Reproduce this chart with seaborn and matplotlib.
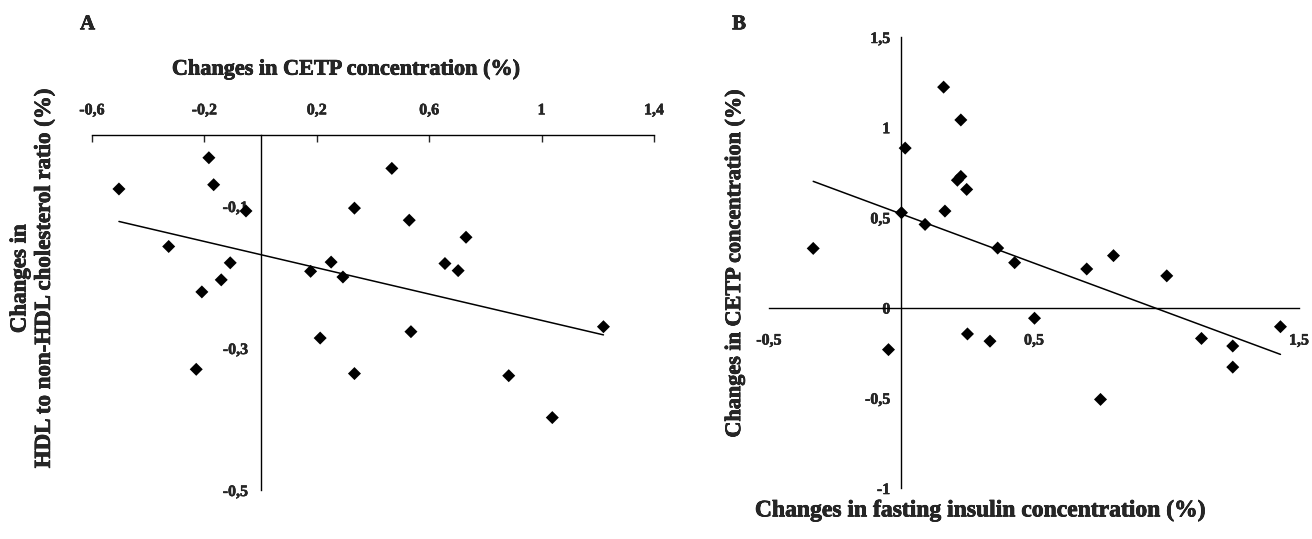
import matplotlib
matplotlib.use('Agg')
import matplotlib.pyplot as plt
import matplotlib.ticker as mticker
import matplotlib.patheffects as pe
import numpy as np
import pandas as pd
import seaborn as sns

# panel A: CETP change vs HDL / non-HDL ratio change
cetp_a = [-0.504, -0.184, -0.167, -0.052, -0.327, -0.108, -0.140, -0.209, -0.229,
          0.178, 0.251, 0.293, 0.334, 0.467, 0.529, 0.731, 0.656, 0.703,
          0.212, 0.535, 0.334, 0.883, 1.038, 1.220]
ratio_a = [-0.076, -0.032, -0.070, -0.107, -0.157, -0.180, -0.204, -0.221, -0.330,
           -0.192, -0.179, -0.200, -0.103, -0.047, -0.120, -0.144, -0.181, -0.191,
           -0.286, -0.277, -0.336, -0.339, -0.398, -0.270]

# panel B: fasting insulin change vs CETP change
insulin_b = [-0.333, -0.049, 0.000, 0.014, 0.089, 0.159, 0.164, 0.224, 0.211,
             0.224, 0.246, 0.249, 0.334, 0.363, 0.427, 0.502, 0.699, 0.751,
             0.800, 1.001, 1.132, 1.250, 1.250, 1.430]
cetp_b = [0.328, -0.233, 0.526, 0.884, 0.461, 1.222, 0.535, 1.040, 0.706,
          0.727, 0.655, -0.146, -0.186, 0.330, 0.249, -0.059, 0.214, -0.509,
          0.288, 0.176, -0.171, -0.213, -0.330, -0.106]

xticks_a = [-0.6, -0.2, 0.2, 0.6, 1.0, 1.4]
yticks_a = [-0.1, -0.3, -0.5]
xticks_b = [-0.5, 0.5, 1.5]
yticks_b = [1.5, 1.0, 0.5, 0.0, -0.5, -1.0]

df_a = pd.DataFrame({'cetp': cetp_a, 'ratio': ratio_a})
df_b = pd.DataFrame({'insulin': insulin_b, 'cetp': cetp_b})

sns.set_style('white')
plt.rcParams['font.family'] = ['Liberation Serif', 'DejaVu Serif']
plt.rcParams['font.weight'] = 'bold'
plt.rcParams['axes.labelweight'] = 'bold'

comma = mticker.FuncFormatter(lambda v, p: ('%g' % round(v, 2)).replace('.', ','))
# the scanned figure uses a very heavy Times bold, thicken a little
heavy = [pe.withStroke(linewidth=0.5, foreground='black')]
heavy_small = [pe.withStroke(linewidth=0.35, foreground='black')]

fig = plt.figure(figsize=(13.12, 5.39), dpi=100)
ax1 = fig.add_axes([0.0701, 0.0909, 0.4284, 0.6586])
ax2 = fig.add_axes([0.5861, 0.0946, 0.4040, 0.8368])

kw = dict(ci=None, color='black', marker='D',
          scatter_kws={'s': 44, 'edgecolor': 'none', 'alpha': 1},
          line_kws={'linewidth': 1.1})

TCK = 11.5

# ---- A
sns.regplot(data=df_a, x='cetp', y='ratio', ax=ax1, **kw)
ax1.set_xlim(-0.6, 1.4)
ax1.set_ylim(-0.5, 0)
ax1.set_xticks(xticks_a)
ax1.set_yticks(yticks_a)
ax1.xaxis.set_major_formatter(comma)
ax1.yaxis.set_major_formatter(comma)
ax1.spines['bottom'].set_visible(False)
ax1.spines['right'].set_visible(False)
ax1.spines['left'].set_position(('data', 0))
ax1.xaxis.tick_top()
ax1.xaxis.set_label_position('top')
ax1.tick_params(axis='x', direction='in', length=5, width=1, pad=12, labelsize=TCK)
ax1.tick_params(axis='y', direction='out', length=5, width=1, pad=4, labelsize=TCK)
ax1.set_xlabel('Changes in CETP concentration (%)', fontsize=16, fontweight='bold')
ax1.set_ylabel('Changes in\nHDL to non-HDL cholesterol ratio (%)', fontsize=16.5,
               fontweight='bold', linespacing=1.2)
ax1.xaxis.set_label_coords(0.453, 1.17)
ax1.yaxis.set_label_coords(-0.066, 0.595)

# ---- B
sns.regplot(data=df_b, x='insulin', y='cetp', ax=ax2, **kw)
ax2.set_xlim(-0.5, 1.5)
ax2.set_ylim(-1, 1.5)
ax2.set_xticks(xticks_b)
ax2.set_yticks(yticks_b)
ax2.xaxis.set_major_formatter(comma)
ax2.yaxis.set_major_formatter(comma)
ax2.spines['top'].set_visible(False)
ax2.spines['right'].set_visible(False)
ax2.spines['left'].set_position(('data', 0))
ax2.spines['bottom'].set_position(('data', 0))
ax2.tick_params(axis='x', direction='out', length=5, width=1, pad=13, labelsize=TCK)
ax2.tick_params(axis='y', direction='out', length=5, width=1, pad=3, labelsize=TCK)
ax2.set_xlabel('Changes in fasting insulin concentration (%)', fontsize=17, fontweight='bold')
ax2.set_ylabel('Changes in CETP concentration (%)', fontsize=16, fontweight='bold')
ax2.xaxis.set_label_coords(0.40, -0.027)
ax2.yaxis.set_label_coords(-0.045, 0.499)

for ax in (ax1, ax2):
    for s in ax.spines.values():
        s.set_color('black')
        s.set_linewidth(1.0)
    ax.set_facecolor('white')
    for t in ax.get_xticklabels() + ax.get_yticklabels():
        t.set_fontweight('bold')
        t.set_path_effects(heavy_small)
    ax.xaxis.label.set_path_effects(heavy)
    ax.yaxis.label.set_path_effects(heavy)

fig.text(0.061, 0.955, 'A', fontsize=15, fontweight='bold', va='center', path_effects=heavy)
fig.text(0.558, 0.955, 'B', fontsize=15, fontweight='bold', va='center', path_effects=heavy)

fig.savefig('out.png', dpi=100, facecolor='white')
